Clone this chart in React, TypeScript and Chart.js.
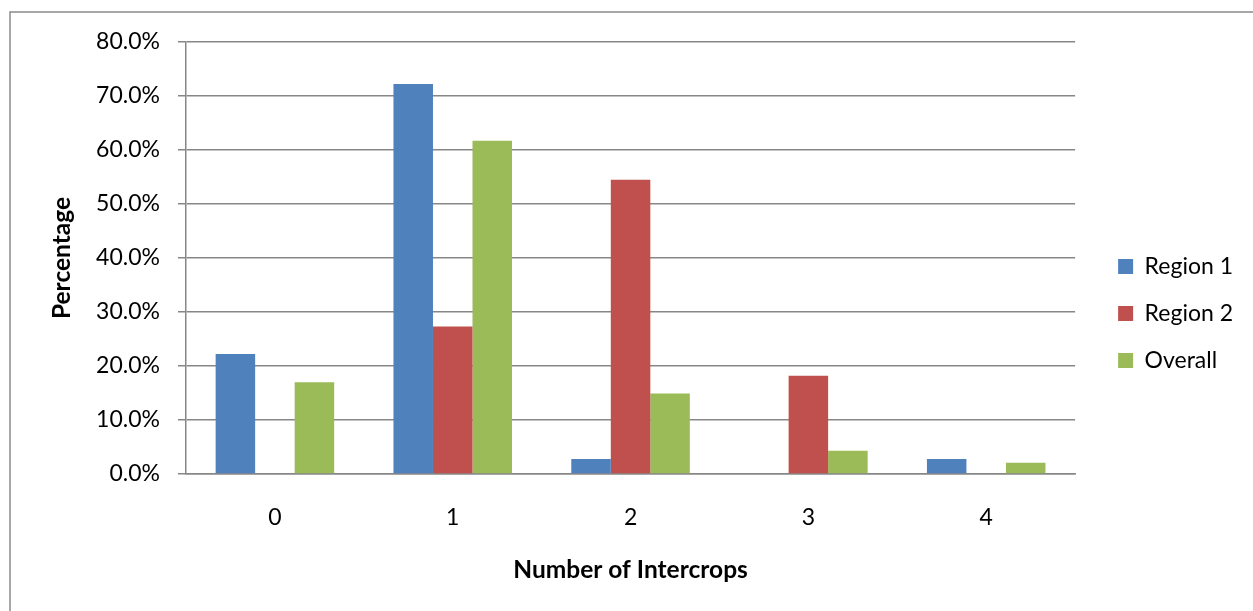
import React, { useEffect, useRef } from 'react';
import { Chart, registerables } from 'chart.js';

Chart.register(...registerables);

const categories = ['0', '1', '2', '3', '4'];
const region1 = [22.2, 72.2, 2.8, 0, 2.8];
const region2 = [0, 27.3, 54.5, 18.2, 0];
const overall = [17.0, 61.7, 14.9, 4.3, 2.1];
const seriesNames = ['Region 1', 'Region 2', 'Overall'];
const xTitle = 'Number of Intercrops';
const yTitle = 'Percentage';
const yMax = 80;
const yStep = 10;

const FONT = 'Lato, "Open Sans", sans-serif';
const FS = 23;
const TFS = 24.5;
const GRID = '#878787';

const outerBorder = {
  id: 'outerBorder',
  beforeDraw(chart: any) {
    const ctx = chart.ctx;
    ctx.save();
    ctx.strokeStyle = '#8a8a8a';
    ctx.lineWidth = 1.5;
    ctx.strokeRect(10, 12, 3000, 3000);
    ctx.restore();
  },
};

export default function App() {
  const ref = useRef<HTMLCanvasElement | null>(null);
  useEffect(() => {
    document.body.style.margin = '0';
    const chart = new Chart(ref.current as HTMLCanvasElement, {
      type: 'bar',
      data: {
        labels: categories,
        datasets: [
          { label: seriesNames[0], data: region1, backgroundColor: '#4F81BD' },
          { label: seriesNames[1], data: region2, backgroundColor: '#C0504D' },
          { label: seriesNames[2], data: overall, backgroundColor: '#9BBB59' },
        ],
      },
      options: {
        animation: false,
        responsive: false,
        maintainAspectRatio: false,
        datasets: { bar: { categoryPercentage: 3 / 4.5, barPercentage: 1, borderWidth: 0 } },
        layout: { padding: { left: 20, top: 42, right: 10, bottom: 26 } },
        plugins: {
          tooltip: { enabled: false },
          legend: {
            position: 'right',
            align: 'center',
            labels: {
              boxWidth: 15,
              boxHeight: 15,
              padding: 24,
              color: '#000',
              font: { family: FONT, size: FS },
            },
          },
        },
        scales: {
          x: {
            grid: { display: true, drawOnChartArea: false, drawTicks: false },
            border: { display: true, color: GRID, width: 1.5 },
            ticks: { color: '#000', padding: 30, font: { family: FONT, size: FS } },
            title: {
              display: true,
              text: xTitle,
              color: '#000',
              font: { family: FONT, size: TFS, weight: 'bold' },
              padding: { top: 0, bottom: 0 },
            },
            afterFit: (s: any) => { s.height = 111; },
          },
          y: {
            min: 0,
            max: yMax,
            ticks: {
              stepSize: yStep,
              color: '#000',
              padding: 18,
              font: { family: FONT, size: FS },
              callback: (v: any) => Number(v).toFixed(1) + '%',
            },
            grid: { color: GRID, lineWidth: 1.5, tickLength: 8, drawTicks: true },
            border: { display: true, color: GRID, width: 1.5 },
            title: {
              display: true,
              text: yTitle,
              color: '#000',
              font: { family: FONT, size: TFS, weight: 'bold' },
              padding: { top: 27, bottom: 0 },
            },
            afterFit: (s: any) => { s.width = 166; },
          },
          spacer: {
            position: 'right',
            display: true,
            grid: { display: false, drawTicks: false },
            border: { display: false },
            ticks: { display: false },
            afterFit: (s: any) => { s.width = 19; },
          },
        },
      },
      plugins: [outerBorder],
    } as any);
    return () => chart.destroy();
  }, []);
  return (
    <div style={{ width: 1253, height: 611, background: '#fff' }}>
      <canvas ref={ref} width={1253} height={611} style={{ display: 'block' }} />
    </div>
  );
}
